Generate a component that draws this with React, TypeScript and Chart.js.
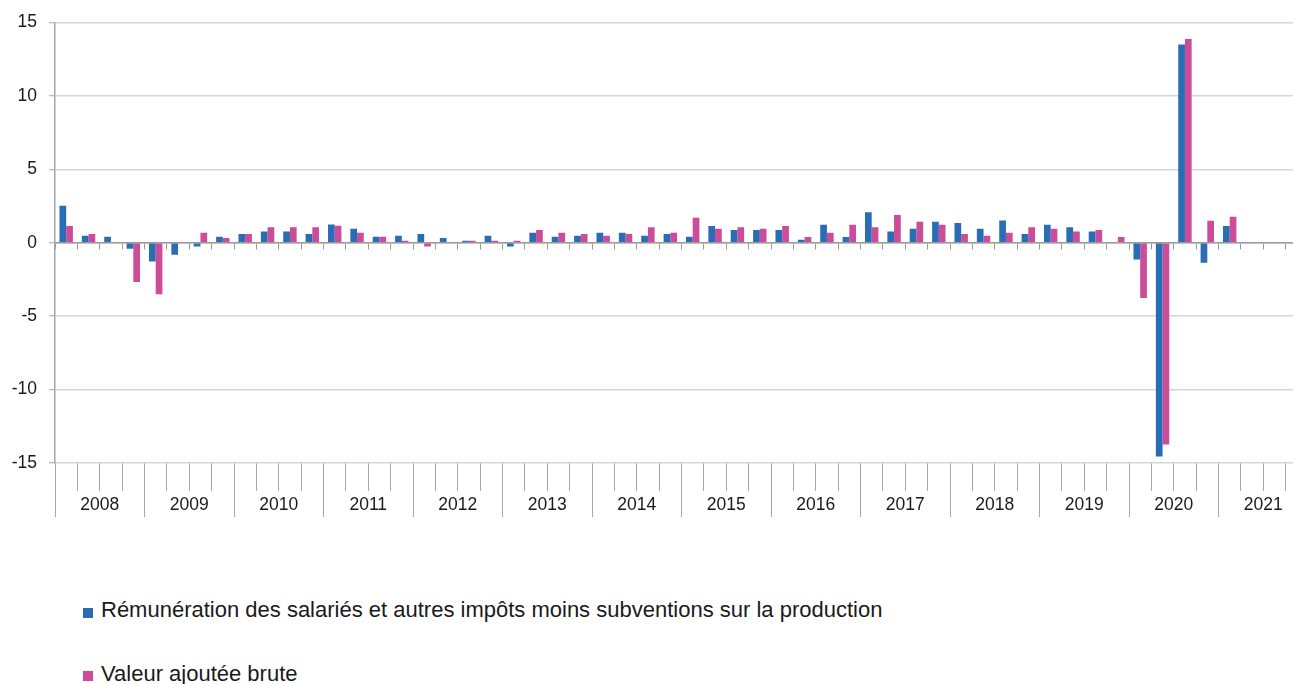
import React, { useEffect, useRef } from 'react';
import { Chart, registerables } from 'chart.js';

Chart.register(...registerables);

// ---- Data ----
const YEARS = ['2008', '2009', '2010', '2011', '2012', '2013', '2014', '2015', '2016', '2017', '2018', '2019', '2020', '2021'];
const QUARTER_CODES = ['T1', 'T2', 'T3', 'T4'];
const QUARTERS = YEARS.flatMap((y) => QUARTER_CODES.map((q) => `${q} ${y}`));

const SERIES_NAMES = [
  'Rémunération des salariés et autres impôts moins subventions sur la production',
  'Valeur ajoutée brute',
];

// Rémunération des salariés et autres impôts moins subventions sur la production
const REMUNERATION = [
  2.52, 0.48, 0.41, -0.41,
  -1.27, -0.82, -0.25, 0.41,
  0.59, 0.77, 0.77, 0.59,
  1.25, 0.95, 0.41, 0.48,
  0.59, 0.32, 0.14, 0.48,
  -0.25, 0.68, 0.41, 0.48,
  0.68, 0.68, 0.48, 0.59,
  0.41, 1.14, 0.86, 0.86,
  0.86, 0.2, 1.23, 0.39,
  2.07, 0.77, 0.95, 1.43,
  1.34, 0.95, 1.52, 0.59,
  1.23, 1.05, 0.77, 0.0,
  -1.14, -14.56, 13.51, -1.36,
  1.14, null, null, null,
];

// Valeur ajoutée brute
const VALEUR_AJOUTEE = [
  1.14, 0.59, 0.0, -2.68,
  -3.5, 0.0, 0.68, 0.32,
  0.59, 1.05, 1.05, 1.05,
  1.16, 0.68, 0.41, 0.14,
  -0.25, 0.0, 0.14, 0.14,
  0.14, 0.86, 0.68, 0.59,
  0.48, 0.59, 1.05, 0.68,
  1.7, 0.95, 1.05, 0.95,
  1.14, 0.39, 0.68, 1.23,
  1.05, 1.89, 1.43, 1.23,
  0.59, 0.48, 0.68, 1.05,
  0.95, 0.77, 0.86, 0.39,
  -3.77, -13.74, 13.87, 1.5,
  1.77, null, null, null,
];

const Y_MIN = -15;
const Y_MAX = 15;
const Y_STEP = 5;

// ---- Styles ----
const BLUE = '#2b6db5';
const PINK = '#cc4c99';
const GRID = '#d6d6d6';
const AXIS = '#a6a6a6';
const ZERO = '#9a9a9a';
const TEXT = '#1a1a1a';
const FONT_FAMILY = '"Liberation Sans", Arial, Helvetica, sans-serif';

export default function App() {
  const canvasRef = useRef<HTMLCanvasElement | null>(null);

  useEffect(() => {
    const canvas = canvasRef.current;
    if (!canvas) return;
    const tickFont = { family: FONT_FAMILY, size: 17.5 };
    const chart = new Chart(canvas, {
      type: 'bar',
      data: {
        labels: QUARTERS,
        datasets: [
          {
            label: SERIES_NAMES[0],
            data: REMUNERATION,
            backgroundColor: BLUE,
            borderWidth: 0,
            categoryPercentage: 0.6,
            barPercentage: 1,
            xAxisID: 'x',
            yAxisID: 'y',
          },
          {
            label: SERIES_NAMES[1],
            data: VALEUR_AJOUTEE,
            backgroundColor: PINK,
            borderWidth: 0,
            categoryPercentage: 0.6,
            barPercentage: 1,
            xAxisID: 'x',
            yAxisID: 'y',
          },
        ],
      },
      options: {
        responsive: false,
        maintainAspectRatio: false,
        animation: false,
        layout: { padding: { top: 22, right: 12, bottom: 0, left: 0 } },
        plugins: {
          legend: { display: false },
          tooltip: { enabled: false },
        },
        scales: {
          x: {
            type: 'category',
            position: 'bottom',
            weight: 0,
            offset: true,
            grid: {
              offset: true,
              drawOnChartArea: false,
              drawTicks: true,
              tickLength: 28,
              color: AXIS,
              lineWidth: 1,
            },
            border: { display: false },
            ticks: { display: false },
            afterFit: (s: any) => {
              s.height = 0;
            },
          },
          xYears: {
            type: 'category',
            axis: 'x',
            position: 'bottom',
            weight: 1,
            labels: YEARS,
            offset: true,
            grid: {
              offset: true,
              drawOnChartArea: false,
              drawTicks: true,
              tickLength: 54,
              color: AXIS,
              lineWidth: 1,
            },
            border: { display: false },
            ticks: {
              font: tickFont,
              color: TEXT,
              padding: -22.5,
              autoSkip: false,
              maxRotation: 0,
              minRotation: 0,
            },
            afterFit: (s: any) => {
              s.height = 67;
            },
          },
          xZero: {
            type: 'category',
            axis: 'x',
            position: { y: 0 },
            labels: QUARTERS,
            offset: true,
            grid: {
              offset: true,
              drawOnChartArea: false,
              drawTicks: true,
              tickLength: 6,
              color: ZERO,
              lineWidth: 1,
            },
            border: { display: true, color: ZERO, width: 1.5 },
            ticks: { display: false },
          },
          y: {
            type: 'linear',
            position: 'left',
            min: Y_MIN,
            max: Y_MAX,
            ticks: {
              stepSize: Y_STEP,
              padding: 12,
              font: tickFont,
              color: TEXT,
            },
            grid: {
              color: GRID,
              lineWidth: 1.5,
              tickLength: 6,
              tickColor: AXIS,
              tickWidth: 1,
            },
            border: { color: AXIS, width: 1.5 },
            afterFit: (s: any) => {
              s.width = 55;
            },
          },
        },
      } as any,
    });
    return () => chart.destroy();
  }, []);

  const legendText: React.CSSProperties = {
    position: 'absolute',
    left: 101,
    font: `22px ${FONT_FAMILY}`,
    lineHeight: '22px',
    color: TEXT,
    whiteSpace: 'nowrap',
  };
  const legendBox: React.CSSProperties = {
    position: 'absolute',
    left: 83,
    width: 10,
    height: 10,
  };

  return (
    <div
      style={{
        position: 'fixed',
        left: 0,
        top: 0,
        width: 1293,
        height: 684,
        overflow: 'hidden',
        background: '#ffffff',
      }}
    >
      <canvas
        ref={canvasRef}
        width={1320}
        height={530}
        style={{ position: 'absolute', left: 0, top: 0, width: 1320, height: 530, display: 'block' }}
      />
      <div style={{ ...legendBox, top: 608, background: BLUE }} />
      <div style={{ ...legendText, top: 599 }}>{SERIES_NAMES[0]}</div>
      <div style={{ ...legendBox, top: 671, background: PINK }} />
      <div style={{ ...legendText, top: 663 }}>{SERIES_NAMES[1]}</div>
    </div>
  );
}
